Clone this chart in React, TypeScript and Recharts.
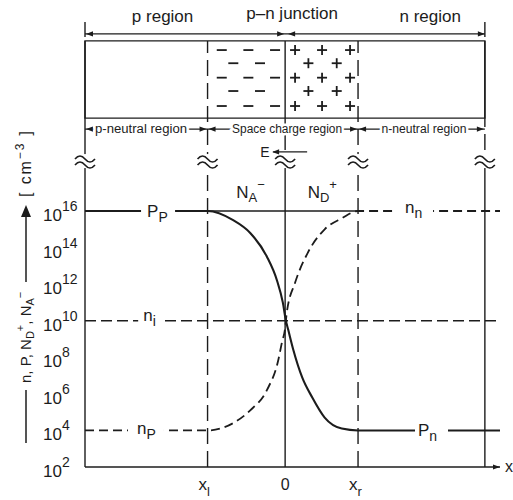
import React from 'react';
import { ComposedChart, Line, XAxis, YAxis, ReferenceLine, ReferenceArea, ReferenceDot } from 'recharts';

// x positions (0 = metallurgical junction, x_l / x_r = edges of the space charge region)
const X_LEFT = -2.58;
const X_L = -1;
const X_R = 0.94;
const X_RIGHT = 2.575;
const X_END = 2.77;

// hole density p(x), as log10 of cm^-3
const holeX = [X_LEFT, -1.0, -0.67, -0.45, -0.235, -0.105, -0.03, 0.01, 0.04, 0.106, 0.22, 0.35, 0.51, 0.73, X_R, X_END];
const holeLog = [16, 16, 15.5, 14.8, 13.5, 12.2, 11.0, 10.0, 9.5, 8.4, 6.9, 5.8, 4.7, 4.1, 4, 4];

// electron density n(x)
const elecX = [X_LEFT, -1.0, -0.67, -0.45, -0.235, -0.088, -0.044, 0, 0.02, 0.13, 0.29, 0.51, 0.73, X_R, X_END];
const elecLog = [4, 4, 4.4, 5.1, 6.2, 7.85, 8.76, 9.6, 10.4, 12.1, 13.7, 15.0, 15.6, 16, 16];

// ionised dopants N_A^- / N_D^+ inside the space charge region
const dopX = [X_L, X_R];
const dopLog = [16, 16];

// intrinsic level n_i
const niX = [X_LEFT, X_END];
const niLog = [10, 10];

const yTicks = [2, 4, 6, 8, 10, 12, 14, 16];
const xTicks = [X_L, 0, X_R];

// vertical layout of the sketch above the plot (same units as the y axis)
const Y_MIN = 2;
const Y_MAX = 27.1;
const BOX_BOTTOM = 21.08;
const BOX_TOP = 25.3;
const TOP_ARROW = 25.68;
const TOP_TICK = [25.51, 26.33];
const TITLE_Y = 26.33;
const LOW_ARROW = 20.48;
const BREAK_Y = 18.73;
const DASH_END = 19.33;
const SOLID_START = 18.51;
const E_Y = 19.23;
const N_Y = 16.71;

// fixed charges in the box
const chargeRows = [24.8, 24.08, 23.29, 22.56, 21.74];
const minusWide = [-0.817, -0.474, -0.13];
const minusNarrow = [-0.668, -0.324];
const plusWide = [0.128, 0.476, 0.837];
const plusNarrow = [0.3, 0.665];

const INK = '#1c1c1c';
const FONT = '"Liberation Sans", Arial, Helvetica, sans-serif';

const toPts = (xs: number[], ys: number[]) => xs.map((x, i) => ({ x, y: ys[i] }));

const at = (key: string, x: number, y: number, draw: (cx: number, cy: number) => React.ReactNode) => (
  <ReferenceDot
    key={key}
    x={x}
    y={y}
    r={1}
    ifOverflow="visible"
    shape={(p: any) => <g>{draw(p.cx, p.cy)}</g>}
  />
);

const head = (cx: number, cy: number, dir: 'l' | 'r') => {
  const L = 7;
  const H = 2.6;
  const pts =
    dir === 'l'
      ? `${cx},${cy} ${cx + L},${cy - H} ${cx + L},${cy + H}`
      : `${cx},${cy} ${cx - L},${cy - H} ${cx - L},${cy + H}`;
  return <polygon points={pts} fill={INK} />;
};

const breakMark = (cx: number, cy: number) => (
  <g>
    <rect x={cx - 11} y={cy - 7} width={22} height={14} fill="#fff" />
    <path d={`M${cx - 10},${cy - 2} q5,-6 10,0 t10,0`} fill="none" stroke={INK} strokeWidth={1.6} />
    <path d={`M${cx - 10},${cy + 4} q5,-6 10,0 t10,0`} fill="none" stroke={INK} strokeWidth={1.6} />
  </g>
);

// symbol with subscript sitting on a line, white gap behind it
const lineLabel = (cx: number, cy: number, main: string, sub: string, dy: number, gap: [number, number]) => (
  <g fontFamily={FONT} fill={INK}>
    <rect x={cx - gap[0]} y={cy - 9} width={gap[0] + gap[1]} height={18} fill="#fff" />
    <text x={cx} y={cy + dy} fontSize={17}>
      {main}
      <tspan fontSize={14} dy={5}>{sub}</tspan>
    </text>
  </g>
);

const YTick = (props: any) => {
  const { y, payload } = props;
  return (
    <text x={43} y={y + 10} fontSize={17} fill={INK} fontFamily={FONT}>
      10
      <tspan fontSize={14} dy={-10}>{payload.value}</tspan>
    </text>
  );
};

const XTick = (props: any) => {
  const { x, payload } = props;
  const v = payload.value;
  const base = 490;
  if (v === 0) {
    return (
      <text x={x} y={base} fontSize={16} fill={INK} fontFamily={FONT} textAnchor="middle">0</text>
    );
  }
  return (
    <text x={x - 9} y={base} fontSize={17} fill={INK} fontFamily={FONT}>
      x
      <tspan fontSize={13} dy={6}>{v < 0 ? 'l' : 'r'}</tspan>
    </text>
  );
};

const YTitle = () => (
  <g transform="translate(31, 443) rotate(-90)" fontFamily={FONT} fill={INK}>
    <line x1={0} y1={-5} x2={53} y2={-5} stroke={INK} strokeWidth={1.5} />
    <text x={60} y={0} fontSize={15}>
      n, P, N
      <tspan fontSize={11} dy={3}>D</tspan>
      <tspan fontSize={11} dy={-10}>+</tspan>
      <tspan fontSize={15} dy={7}>, N</tspan>
      <tspan fontSize={11} dy={3}>A</tspan>
      <tspan fontSize={11} dy={-10}>−</tspan>
    </text>
    <line x1={161} y1={-5} x2={228} y2={-5} stroke={INK} strokeWidth={1.5} />
    <polygon points="238,-5 226,-10 226,0" fill={INK} />
    <text x={246} y={0} fontSize={16} textLength={66} lengthAdjust="spacing">
      [ cm
      <tspan fontSize={12} dy={-7}>−3</tspan>
      <tspan fontSize={16} dy={7}> ]</tspan>
    </text>
  </g>
);

const vSeg = (key: string, x: number, y1: number, y2: number, dashed?: boolean) => (
  <ReferenceLine
    key={key}
    segment={[{ x, y: y1 }, { x, y: y2 }]}
    stroke={INK}
    strokeWidth={1.4}
    strokeDasharray={dashed ? '16 7' : undefined}
  />
);

const hSeg = (key: string, x1: number, x2: number, y: number) => (
  <ReferenceLine key={key} segment={[{ x: x1, y }, { x: x2, y }]} stroke={INK} strokeWidth={1.3} />
);

const smallText = (cx: number, cy: number, s: string, len: number) => (
  <text
    x={cx}
    y={cy + 4}
    fontSize={12}
    fontFamily={FONT}
    fill={INK}
    textAnchor="middle"
    textLength={len}
    lengthAdjust="spacingAndGlyphs"
    stroke="#fff"
    strokeWidth={5}
    paintOrder="stroke"
  >
    {s}
  </text>
);

export default function App() {
  const charges: React.ReactNode[] = [];
  chargeRows.forEach((ry, r) => {
    const mx = r % 2 === 0 ? minusWide : minusNarrow;
    const px = r % 2 === 0 ? plusWide : plusNarrow;
    mx.forEach((x, i) =>
      charges.push(at(`m${r}-${i}`, x, ry, (cx, cy) => (
        <line x1={cx - 5} y1={cy} x2={cx + 5} y2={cy} stroke={INK} strokeWidth={1.8} />
      )))
    );
    px.forEach((x, i) =>
      charges.push(at(`p${r}-${i}`, x, ry, (cx, cy) => (
        <g stroke={INK} strokeWidth={1.8}>
          <line x1={cx - 5} y1={cy} x2={cx + 5} y2={cy} />
          <line x1={cx} y1={cy - 5} x2={cx} y2={cy + 5} />
        </g>
      )))
    );
  });

  return (
    <div style={{ position: 'absolute', left: 0, top: 0, width: 513, height: 500, background: '#fff' }}>
      <ComposedChart width={513} height={500} margin={{ top: 8, right: 13, bottom: 0, left: 0 }}>
        <XAxis
          type="number"
          dataKey="x"
          domain={[X_LEFT, X_END]}
          ticks={xTicks}
          interval={0}
          allowDataOverflow
          tickLine={false}
          axisLine={{ stroke: INK, strokeWidth: 1.5 }}
          tick={<XTick />}
          height={33}
        />
        <YAxis
          type="number"
          dataKey="y"
          domain={[Y_MIN, Y_MAX]}
          ticks={yTicks}
          interval={0}
          allowDataOverflow
          tickLine={false}
          axisLine={false}
          width={85}
          tick={<YTick />}
          label={<YTitle />}
        />

        {/* sketch of the diode */}
        <ReferenceArea x1={X_LEFT} x2={X_RIGHT} y1={BOX_BOTTOM} y2={BOX_TOP} fill="none" stroke={INK} strokeWidth={1.4} ifOverflow="visible" />
        {vSeg('vl', X_LEFT, Y_MIN, BOX_TOP)}
        {vSeg('vlt', X_LEFT, TOP_TICK[0], TOP_TICK[1])}
        {vSeg('vxl', X_L, Y_MIN, BOX_TOP, true)}
        {vSeg('v0a', 0, BOX_BOTTOM, BOX_TOP)}
        {vSeg('v0b', 0, DASH_END, BOX_BOTTOM, true)}
        {vSeg('v0c', 0, Y_MIN, SOLID_START)}
        {vSeg('vxr', X_R, Y_MIN, BOX_TOP, true)}
        {vSeg('vra', X_RIGHT, BOX_BOTTOM, BOX_TOP)}
        {vSeg('vrb', X_RIGHT, DASH_END, BOX_BOTTOM, true)}
        {vSeg('vrc', X_RIGHT, Y_MIN, SOLID_START)}
        {vSeg('vrt', X_RIGHT, TOP_TICK[0], TOP_TICK[1])}
        {hSeg('ta', X_LEFT, X_RIGHT, TOP_ARROW)}
        {hSeg('la', X_LEFT, X_RIGHT, LOW_ARROW)}

        <Line data={toPts(niX, niLog)} dataKey="y" type="linear" stroke={INK} strokeWidth={1.4} strokeDasharray="11 5" dot={false} isAnimationActive={false} />
        <Line data={toPts(dopX, dopLog)} dataKey="y" type="linear" stroke={INK} strokeWidth={1.6} dot={false} isAnimationActive={false} />
        <Line data={toPts(elecX, elecLog)} dataKey="y" type="monotone" stroke={INK} strokeWidth={1.8} strokeDasharray="9 5" dot={false} isAnimationActive={false} />
        <Line data={toPts(holeX, holeLog)} dataKey="y" type="monotone" stroke={INK} strokeWidth={2.1} dot={false} isAnimationActive={false} />

        {charges}

        {/* arrows and captions above / below the box */}
        {at('h1', X_LEFT, TOP_ARROW, (cx, cy) => head(cx + 1, cy, 'l'))}
        {at('h2', 0, TOP_ARROW, (cx, cy) => head(cx - 1, cy, 'r'))}
        {at('h3', 0, TOP_ARROW, (cx, cy) => head(cx + 3, cy, 'l'))}
        {at('h4', X_RIGHT, TOP_ARROW, (cx, cy) => head(cx, cy, 'r'))}
        {at('t1', -1.58, TITLE_Y, (cx, cy) => <text x={cx} y={cy} fontSize={17} fontFamily={FONT} fill={INK} textAnchor="middle">p region</text>)}
        {at('t2', 0.09, TITLE_Y, (cx, cy) => <text x={cx} y={cy - 3} fontSize={17} fontFamily={FONT} fill={INK} textAnchor="middle">p–n junction</text>)}
        {at('t3', 1.87, TITLE_Y, (cx, cy) => <text x={cx} y={cy} fontSize={17} fontFamily={FONT} fill={INK} textAnchor="middle">n region</text>)}

        {[X_LEFT, X_L, X_R].map((x, i) => at(`ll${i}`, x, LOW_ARROW, (cx, cy) => head(cx + 1, cy, 'l')))}
        {[X_L, X_R, X_RIGHT].map((x, i) => at(`lr${i}`, x, LOW_ARROW, (cx, cy) => head(cx - 1, cy, 'r')))}
        {at('s1', -1.858, LOW_ARROW, (cx, cy) => smallText(cx, cy, 'p-neutral region', 92))}
        {at('s2', 0.025, LOW_ARROW, (cx, cy) => smallText(cx, cy, 'Space charge region', 110))}
        {at('s3', 1.79, LOW_ARROW, (cx, cy) => smallText(cx, cy, 'n-neutral region', 85))}

        {[X_LEFT, X_L, 0, X_R, X_RIGHT].map((x, i) => at(`b${i}`, x, BREAK_Y, breakMark))}

        {at('E', 0, E_Y, (cx, cy) => (
          <g>
            <text x={cx - 25} y={cy + 5} fontSize={14} fontFamily={FONT} fill={INK}>E</text>
            <line x1={cx - 12} y1={cy} x2={cx + 22} y2={cy} stroke={INK} strokeWidth={1.3} />
            {head(cx - 13, cy, 'l')}
          </g>
        ))}

        {at('NA', -0.63, N_Y, (cx, cy) => (
          <text x={cx} y={cy} fontSize={17} fontFamily={FONT} fill={INK}>
            N<tspan fontSize={13} dy={4}>A</tspan><tspan fontSize={13} dy={-13}>−</tspan>
          </text>
        ))}
        {at('ND', 0.29, N_Y, (cx, cy) => (
          <text x={cx} y={cy} fontSize={17} fontFamily={FONT} fill={INK}>
            N<tspan fontSize={13} dy={4}>D</tspan><tspan fontSize={13} dy={-13}>+</tspan>
          </text>
        ))}

        {/* labels on the concentration lines */}
        {at('Pp', -1.78, 16, (cx, cy) => lineLabel(cx, cy, 'P', 'P', 6, [6, 28]))}
        {at('np', -1.91, 4, (cx, cy) => lineLabel(cx, cy, 'n', 'P', 4, [9, 27]))}
        {at('ni', -1.83, 10, (cx, cy) => lineLabel(cx, cy, 'n', 'i', 0, [5, 20]))}
        {at('nn', 1.546, 16, (cx, cy) => lineLabel(cx, cy, 'n', 'n', 2, [10, 28]))}
        {at('Pn', 1.713, 4, (cx, cy) => lineLabel(cx, cy, 'P', 'n', 6, [3, 30]))}

        {at('xend', X_END, Y_MIN, (cx, cy) => (
          <g>
            {head(cx, cy, 'r')}
            <text x={cx + 5} y={cy + 5} fontSize={16} fontFamily={FONT} fill={INK}>x</text>
          </g>
        ))}
      </ComposedChart>
    </div>
  );
}
